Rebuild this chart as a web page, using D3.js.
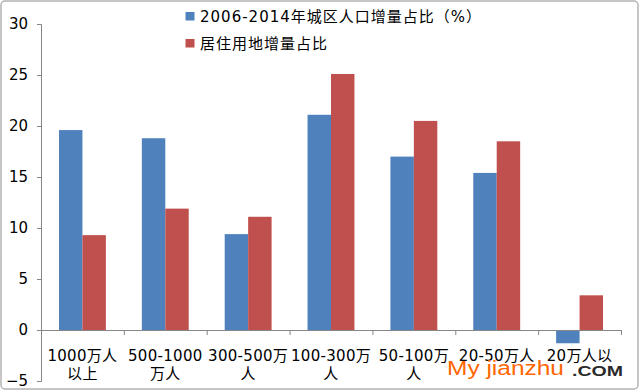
<!DOCTYPE html>
<html><head><meta charset="utf-8">
<script src="https://cdn.jsdelivr.net/npm/d3@7"></script>
<style>body{margin:0;background:#fff}svg{display:block}</style>
</head><body>
<script>
const categories = [["1000万人","以上"],["500-1000","万人"],["300-500万","人"],["100-300万","人"],["50-100万","人"],["20-50万人",""],["20万人以",""]];
const popShare = [19.6, 18.8, 9.4, 21.1, 17.0, 15.4, -1.3];
const landShare = [9.3, 11.9, 11.1, 25.1, 20.5, 18.5, 3.4];
const seriesNames = ["2006-2014年城区人口增量占比（%）","居住用地增量占比"];
const colors = ["#4F81BD","#C0504D"];
const yTicks = [-5,0,5,10,15,20,25,30];

const W=640,H=392;
const svg=d3.select("body").append("svg").attr("width",W).attr("height",H);
const font='"DejaVu Sans","Noto Sans CJK SC",sans-serif';
svg.append("rect").attr("x",1).attr("y",1).attr("width",W-3).attr("height",H-4).attr("rx",4)
  .attr("fill","#fff").attr("stroke","#b3b3b3").attr("stroke-width",1.5);

const x0=d3.scaleBand().domain(d3.range(categories.length)).range([41,621]).paddingInner(0.434).paddingOuter(0.217);
const x1=d3.scaleBand().domain([0,1]).range([0,x0.bandwidth()]);
const y=d3.scaleLinear().domain([-5,30]).range([381,24]);

const data=categories.map((c,i)=>[popShare[i],landShare[i]]);
const g=svg.append("g");
g.selectAll("g.cat").data(data).join("g").attr("class","cat")
 .attr("transform",(d,i)=>`translate(${x0(i)},0)`)
 .selectAll("rect").data(d=>d.map((v,j)=>({v,j}))).join("rect")
 .attr("x",d=>x1(d.j)).attr("width",x1.bandwidth())
 .attr("y",d=>y(Math.max(0,d.v))).attr("height",d=>Math.abs(y(d.v)-y(0)))
 .attr("fill",d=>colors[d.j]);

// y axis
const ya=svg.append("g").attr("transform","translate(41,0)")
 .call(d3.axisLeft(y).tickValues(yTicks).tickSize(4).tickPadding(9).tickFormat(d3.format("d")));
ya.select(".domain").attr("stroke","#868686");
ya.selectAll(".tick line").attr("stroke","#868686");
ya.selectAll("text").attr("font-family",font).attr("font-size",15).attr("fill","#000");

// x axis line at 0
const xb=d3.scaleLinear().domain([0,categories.length]).range([41,621]);
const xa=svg.append("g").attr("transform",`translate(0,${y(0)})`)
 .call(d3.axisBottom(xb).tickValues(d3.range(categories.length+1)).tickSize(5).tickFormat(""));
xa.select(".domain").attr("stroke","#868686");
xa.selectAll(".tick line").attr("stroke","#868686");

// category labels
categories.forEach((c,i)=>{
  const cx=x0(i)+x0.bandwidth()/2;
  c.forEach((t,k)=>{
    if(!t) return;
    svg.append("text").attr("x",cx).attr("y",361+k*18).attr("text-anchor","middle")
      .attr("font-family",font).attr("font-size",15).attr("letter-spacing",0.3).attr("fill","#000").text(t);
  });
});

// legend
seriesNames.forEach((n,i)=>{
  const ly=12+i*27;
  svg.append("rect").attr("x",185.5).attr("y",ly).attr("width",9).attr("height",8.5).attr("fill",colors[i]);
  svg.append("text").attr("x",200).attr("y",ly+9.5).attr("font-family",font).attr("font-size",15)
    .attr("letter-spacing",1).attr("fill","#000").text(n);
});

// watermark
svg.append("text").attr("x",447).attr("y",375).attr("font-family","Liberation Sans, Arial, sans-serif")
  .attr("font-size",20).attr("textLength",117).attr("lengthAdjust","spacingAndGlyphs")
  .attr("fill","#FF6600").text("My jianzhu");
svg.append("text").attr("x",572).attr("y",376).attr("font-family","Liberation Sans, Arial, sans-serif")
  .attr("font-size",15.5).attr("font-weight","bold").attr("textLength",51).attr("lengthAdjust","spacingAndGlyphs")
  .attr("fill","#2b2b2b").text(".COM");
</script>
</body></html>
